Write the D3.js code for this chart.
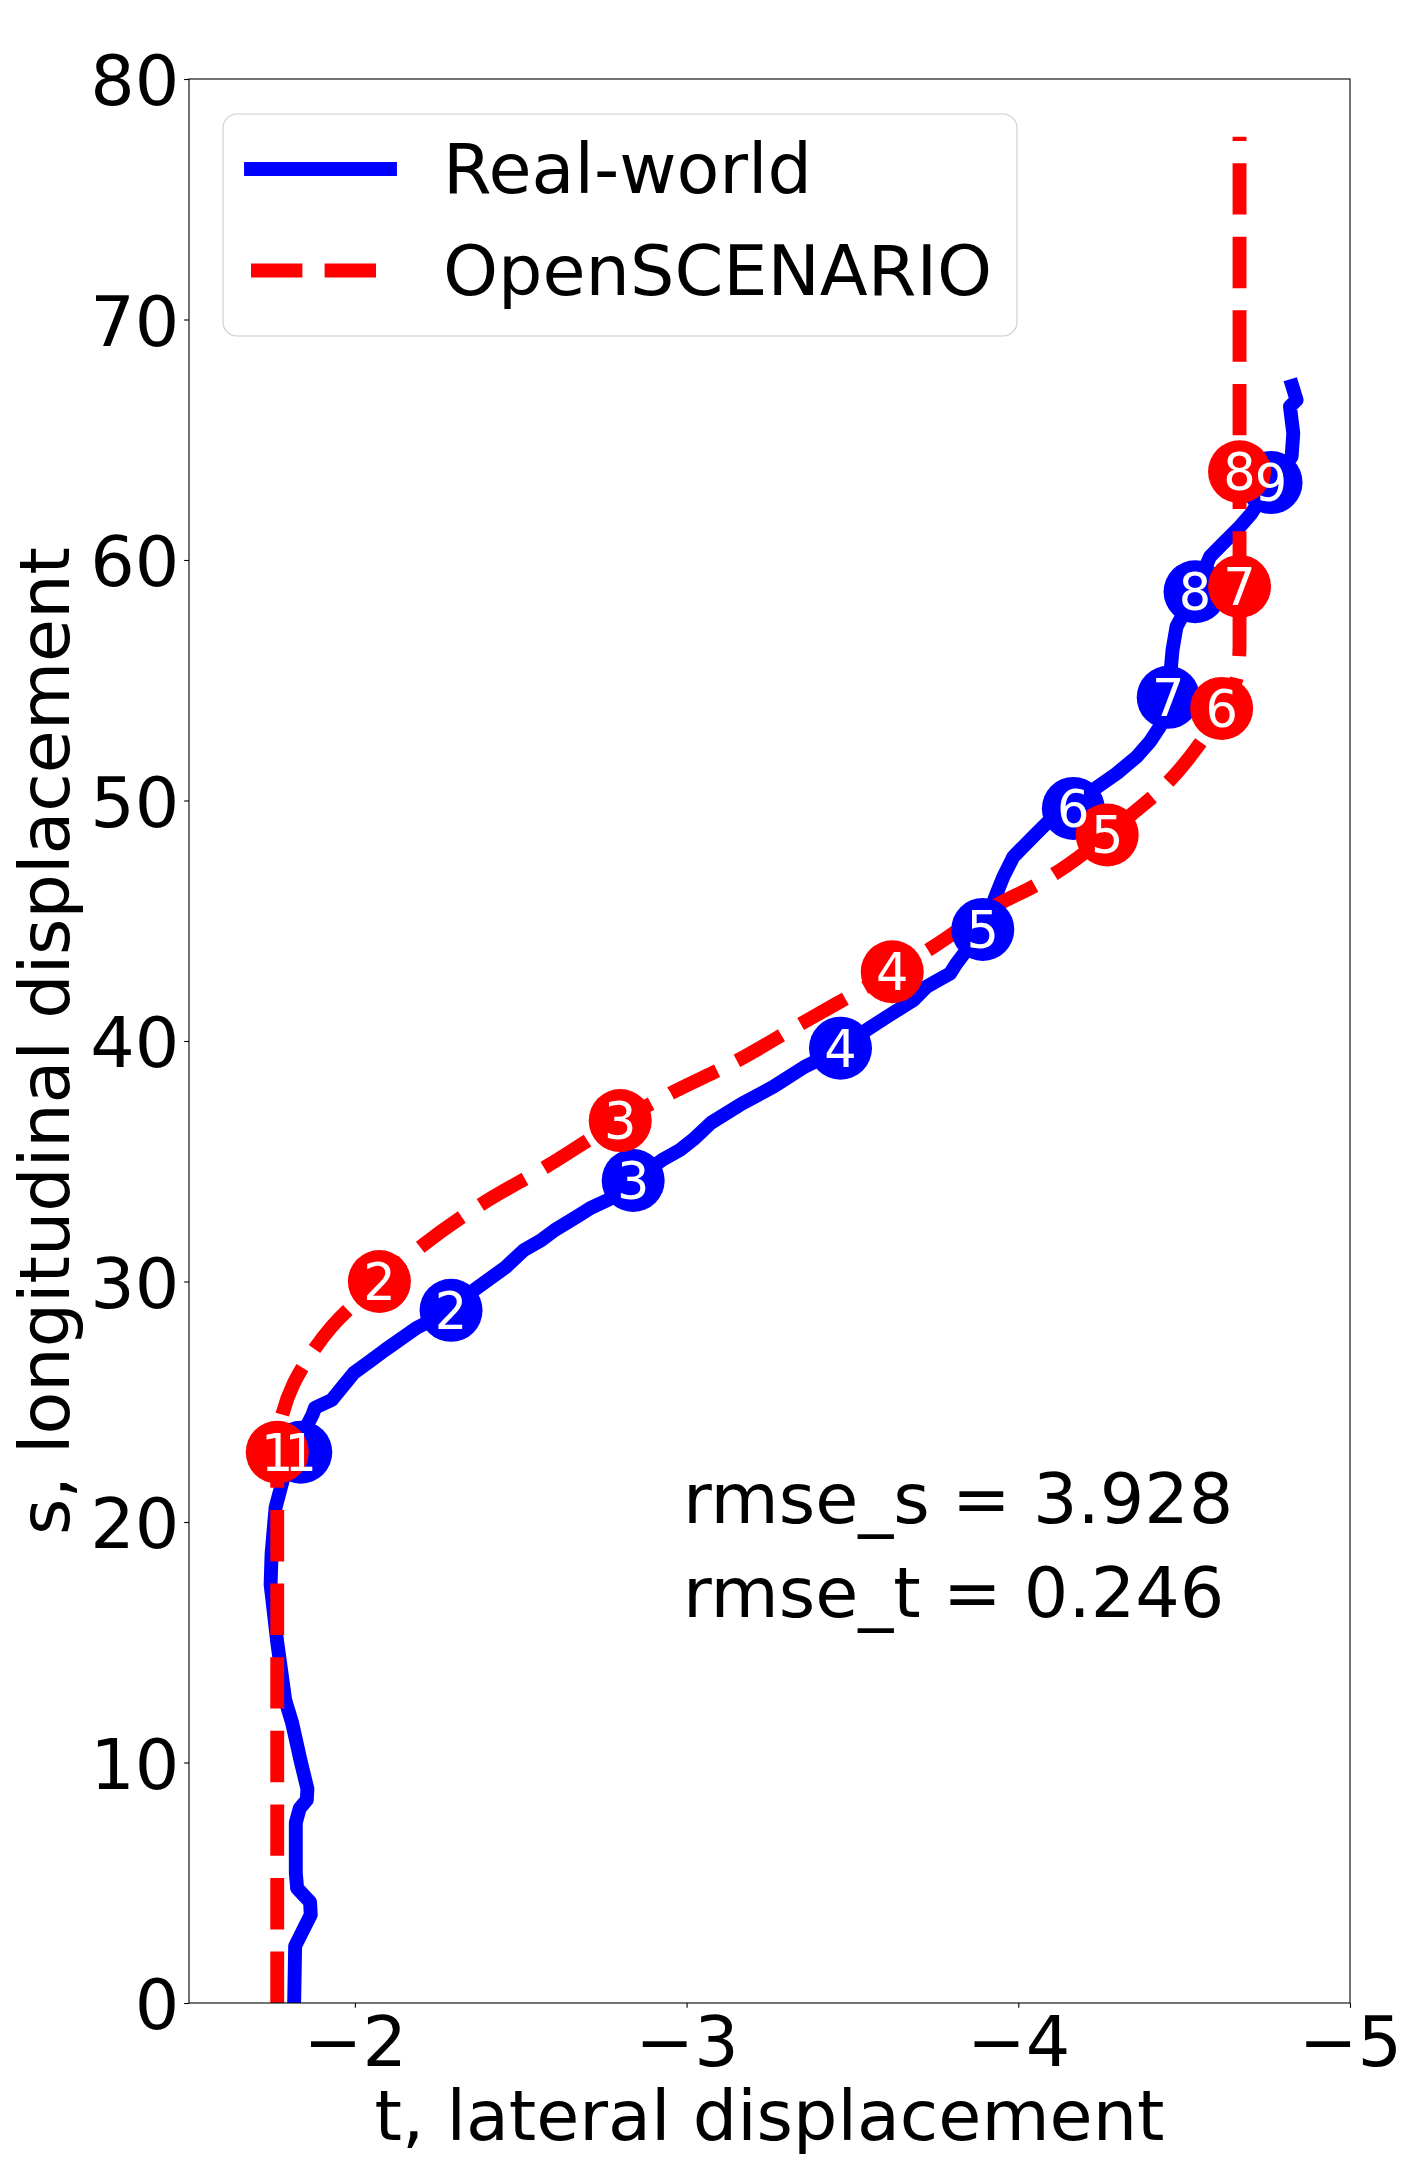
<!DOCTYPE html>
<html>
<head>
<meta charset="utf-8">
<script src="https://cdn.jsdelivr.net/npm/d3@7"></script>
<style>
  body { margin: 0; background: #fff; }
  svg { display: block; }
  text { font-family: "DejaVu Sans", sans-serif; }
</style>
</head>
<body>
<svg id="chart" width="1401" height="2168"></svg>
<script>
// ---------------- data ----------------
// Real-world trajectory (t = lateral, s = longitudinal)
const realT = [-1.817, -1.820, -1.867, -1.865, -1.826, -1.822, -1.822, -1.834, -1.855, -1.857,
  -1.837, -1.811, -1.790, -1.766, -1.746, -1.749, -1.761, -1.786, -1.815, -1.872, -1.880,
  -1.930, -1.997, -2.051, -2.091, -2.186, -2.290, -2.360, -2.455, -2.509, -2.563, -2.603,
  -2.670, -2.710, -2.764, -2.839, -2.926, -2.980, -3.020, -3.074, -3.167, -3.262, -3.356,
  -3.464, -3.543, -3.603, -3.684, -3.724, -3.760, -3.794, -3.814, -3.844, -3.893, -3.935,
  -3.955, -3.985, -4.045, -4.085, -4.166, -4.226, -4.297, -4.357, -4.397, -4.427, -4.452,
  -4.465, -4.477, -4.533, -4.578, -4.618, -4.668, -4.703, -4.762, -4.824, -4.829, -4.819,
  -4.839, -4.826];
const realS = [0.0, 2.37, 3.66, 4.2, 4.77, 5.4, 7.5, 8.1, 8.44, 8.9,
  10.04, 11.64, 12.6, 15.0, 17.4, 18.7, 20.6, 21.9, 22.9, 24.45, 24.75,
  25.07, 26.2, 26.74, 27.15, 28.07, 28.8, 29.65, 30.6, 31.3, 31.73, 32.14,
  32.7, 33.05, 33.4, 34.2, 35.05, 35.47, 35.9, 36.6, 37.4, 38.1, 38.93,
  39.67, 40.46, 41.0, 41.7, 42.26, 42.54, 42.8, 43.23, 43.78, 44.64, 46.14,
  46.83, 47.66, 48.5, 49.05, 49.67, 50.44, 51.13, 51.82, 52.45, 53.07, 54.29,
  56.26, 57.23, 58.68, 60.14, 60.7, 61.39, 61.94, 63.22, 64.3, 65.27, 66.38,
  66.65, 67.24];

// OpenSCENARIO trajectory
const oscT = [-1.766, -1.766, -1.770, -1.782, -1.816, -1.862, -1.930, -2.074, -2.199, -2.387,
  -2.576, -2.800, -2.953, -3.155, -3.343, -3.620, -3.744, -3.945, -4.045, -4.126, -4.268,
  -4.357, -4.417, -4.548, -4.613, -4.660, -4.667, -4.667];
const oscS = [0.0, 22.9, 23.7, 24.5, 25.77, 26.86, 28.12, 30.0, 31.45, 33.26,
  34.77, 36.69, 37.83, 39.2, 40.7, 42.88, 43.92, 45.73, 46.42, 47.1, 48.57,
  49.6, 50.3, 52.38, 53.83, 55.2, 56.5, 77.6];

// numbered waypoints
const realMarkT = [-1.837, -2.290, -2.839, -3.464, -3.893, -4.166, -4.452, -4.533, -4.762];
const realMarkS = [22.9, 28.8, 34.2, 39.7, 44.64, 49.67, 54.29, 58.68, 63.22];
const realMarkLabels = ["1", "2", "3", "4", "5", "6", "7", "8", "9"];

const oscMarkT = [-1.766, -2.074, -2.800, -3.620, -4.268, -4.613, -4.667, -4.667];
const oscMarkS = [22.9, 30.0, 36.69, 42.88, 48.57, 53.83, 58.9, 63.67];
const oscMarkLabels = ["1", "2", "3", "4", "5", "6", "7", "8"];

const xTicks = [-2, -3, -4, -5];
const yTicks = [0, 10, 20, 30, 40, 50, 60, 70, 80];
const xDomain = [-1.5, -5];
const yDomain = [0, 80];

const seriesNames = ["Real-world", "OpenSCENARIO"];
const statLines = ["rmse_s = 3.928", "rmse_t = 0.246"];
const xLabel = "t, lateral displacement";
const yLabel = "s, longitudinal displacement";

(function () {
// ---------------- layout ----------------
const FS = 70;
const pLeft = 189, pRight = 1350, pTop = 79, pBottom = 2003;
const BLUE = "#0000ff", RED = "#ff0000";
const LW = 13.9;
const DASH = "51.4,22.2";
const R = 31.5;

const svg = d3.select("#chart");
svg.append("rect").attr("width", 1401).attr("height", 2168).attr("fill", "#fff");

const x = d3.scaleLinear().domain(xDomain).range([pLeft, pRight]);
const y = d3.scaleLinear().domain(yDomain).range([pBottom, pTop]);

svg.append("defs").append("clipPath").attr("id", "clip")
  .append("rect").attr("x", pLeft).attr("y", pTop)
  .attr("width", pRight - pLeft).attr("height", pBottom - pTop);

const plot = svg.append("g").attr("clip-path", "url(#clip)");

const realPts = realT.map((t, i) => [t, realS[i]]);
const oscPts = oscT.map((t, i) => [t, oscS[i]]);

const lineLin = d3.line().x(d => x(d[0])).y(d => y(d[1]));
const lineSmooth = d3.line().x(d => x(d[0])).y(d => y(d[1])).curve(d3.curveMonotoneY);

plot.append("path").attr("d", lineLin(realPts))
  .attr("fill", "none").attr("stroke", BLUE).attr("stroke-width", LW)
  .attr("stroke-linejoin", "round").attr("stroke-linecap", "square");

plot.append("path").attr("d", lineSmooth(oscPts))
  .attr("fill", "none").attr("stroke", RED).attr("stroke-width", LW)
  .attr("stroke-dasharray", DASH)
  .attr("stroke-linejoin", "round").attr("stroke-linecap", "butt");

const realMarks = realMarkT.map((t, i) => ({t, s: realMarkS[i], label: realMarkLabels[i]}));
const oscMarks = oscMarkT.map((t, i) => ({t, s: oscMarkS[i], label: oscMarkLabels[i]}));

plot.selectAll("circle.real").data(realMarks).join("circle").attr("class", "real")
  .attr("cx", d => x(d.t)).attr("cy", d => y(d.s)).attr("r", R).attr("fill", BLUE);
plot.selectAll("circle.osc").data(oscMarks).join("circle").attr("class", "osc")
  .attr("cx", d => x(d.t)).attr("cy", d => y(d.s)).attr("r", R).attr("fill", RED);

const MFS = 51;
plot.selectAll("text.real").data(realMarks).join("text").attr("class", "real")
  .attr("x", d => x(d.t)).attr("y", d => y(d.s) + 0.3645 * MFS)
  .attr("text-anchor", "middle").attr("font-size", MFS).attr("fill", "#fff")
  .text(d => d.label);
plot.selectAll("text.osc").data(oscMarks).join("text").attr("class", "osc")
  .attr("x", d => x(d.t)).attr("y", d => y(d.s) + 0.3645 * MFS)
  .attr("text-anchor", "middle").attr("font-size", MFS).attr("fill", "#fff")
  .text(d => d.label);

// ---------------- axes ----------------
const TL = 4.86;
const xAxis = svg.append("g").attr("transform", `translate(0,${pBottom})`)
  .call(d3.axisBottom(x).tickValues(xTicks).tickSize(TL).tickPadding(8.4).tickFormat(d3.format("d")));
const yAxis = svg.append("g").attr("transform", `translate(${pLeft},0)`)
  .call(d3.axisLeft(y).tickValues(yTicks).tickSize(TL).tickPadding(4.86).tickFormat(d3.format("d")));

[xAxis, yAxis].forEach(g => {
  g.select(".domain").remove();
  g.selectAll(".tick line").attr("stroke", "#000").attr("stroke-width", 1.1);
  g.selectAll(".tick text").attr("font-size", FS).attr("font-family", "DejaVu Sans").attr("fill", "#000");
});
yAxis.selectAll(".tick text").attr("dy", "0.3645em");

// frame
svg.append("rect").attr("x", pLeft).attr("y", pTop)
  .attr("width", pRight - pLeft).attr("height", pBottom - pTop)
  .attr("fill", "none").attr("stroke", "#000").attr("stroke-width", 1.1);

// axis labels
svg.append("text").attr("x", (pLeft + pRight) / 2).attr("y", 2140)
  .attr("text-anchor", "middle").attr("font-size", FS).text(xLabel);
svg.append("text").attr("transform", `translate(69,${(pTop + pBottom) / 2}) rotate(-90)`)
  .attr("text-anchor", "middle").attr("font-size", FS).text(yLabel);

// stats text
svg.selectAll("text.stat").data(statLines).join("text").attr("class", "stat")
  .attr("x", 683).attr("y", (d, i) => 1523 + i * 94)
  .attr("font-size", FS).text(d => d);

// ---------------- legend ----------------
const lg = svg.append("g");
lg.append("rect").attr("x", 223).attr("y", 114).attr("width", 794).attr("height", 222)
  .attr("rx", 14).attr("ry", 14)
  .attr("fill", "#fff").attr("fill-opacity", 0.8)
  .attr("stroke", "#cccccc").attr("stroke-width", 1.1);
const legendRows = [
  {name: seriesNames[0], color: BLUE, dash: null, cap: "square", cy: 169, base: 193},
  {name: seriesNames[1], color: RED, dash: DASH, cap: "butt", cy: 270.5, base: 295}
];
legendRows.forEach(r => {
  lg.append("line").attr("x1", 251).attr("x2", 390).attr("y1", r.cy).attr("y2", r.cy)
    .attr("stroke", r.color).attr("stroke-width", LW)
    .attr("stroke-linecap", r.cap)
    .attr("stroke-dasharray", r.dash);
  lg.append("text").attr("x", 443).attr("y", r.base).attr("font-size", FS).text(r.name);
});
})();
</script>
</body>
</html>
